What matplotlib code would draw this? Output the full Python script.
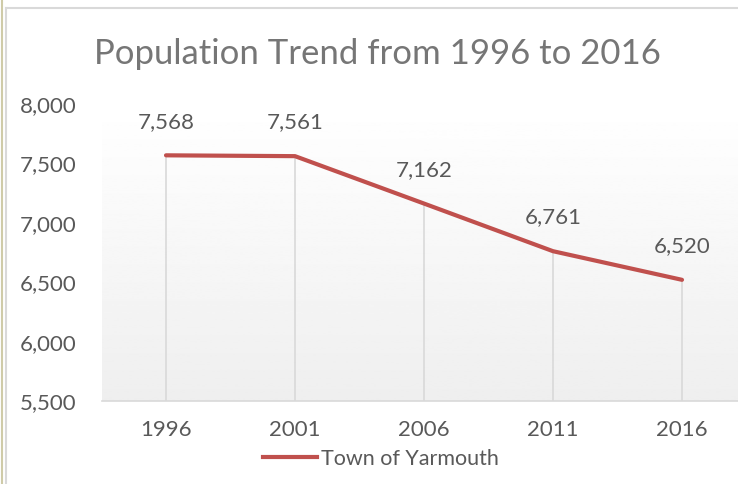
import matplotlib.pyplot as plt
import numpy as np
from matplotlib.lines import Line2D

years = ['1996', '2001', '2006', '2011', '2016']
population = [7568, 7561, 7162, 6761, 6520]
y_ticks = [5500, 6000, 6500, 7000, 7500, 8000]

plt.rcParams['font.family'] = ['Lato', 'DejaVu Sans']

W, H = 738, 484
fig = plt.figure(figsize=(W / 100, H / 100), dpi=100)

# plot area in pixels (right edge runs past the picture, like the cropped screenshot)
left, right, top, bottom = 101.5, 746.5, 104, 401
ax = fig.add_axes([left / W, 1 - bottom / H, (right - left) / W, (bottom - top) / H])

# light vertical gradient, white at top to grey at bottom
grad = np.linspace(1.0, 0.935, 256).reshape(-1, 1)
ax.imshow(grad, cmap='gray', vmin=0, vmax=1, aspect='auto',
          extent=(-0.5, 4.5, 5500, 8000), origin='upper', zorder=0)

x = np.arange(len(years))
ax.vlines(x, 5500, population, color='#d9d9d9', linewidth=1.2, zorder=1)
ax.plot(x, population, color='#c0504d', linewidth=3, solid_capstyle='round', zorder=3,
        label='Town of Yarmouth')

for xi, v in zip(x, population):
    ax.annotate(f'{v:,}', xy=(xi, v), xytext=(0, 17), textcoords='offset points',
                ha='center', va='bottom', fontsize=16, color='#595959')

ax.set_xlim(-0.5, 4.5)
ax.set_ylim(5500, 8000)
ax.set_xticks(x)
ax.set_xticklabels(years)
ax.set_yticks(y_ticks)
ax.set_yticklabels([f'{t:,}' for t in y_ticks])
ax.tick_params(axis='both', length=0, labelsize=16, colors='#595959')
ax.tick_params(axis='x', pad=14)
ax.tick_params(axis='y', pad=18)
for s in ['top', 'right', 'left']:
    ax.spines[s].set_visible(False)
ax.spines['bottom'].set_color('#d9d9d9')
ax.spines['bottom'].set_linewidth(1.2)

fig.text(377 / W, 1 - 54 / H, 'Population Trend from 1996 to 2016',
         ha='center', va='center', fontsize=25, color='#767676')

handle = Line2D([0], [0], color='#c0504d', linewidth=3)
fig.legend([handle], ['Town of Yarmouth'], loc='center', bbox_to_anchor=(381 / W, 1 - 459 / H),
           frameon=False, fontsize=15.5, labelcolor='#595959', handlelength=2.5,
           handletextpad=0.2)

# outer frame lines of the screenshot
fig.add_artist(Line2D([1.5 / W, 1.5 / W], [0, 1], color='#cfcba8', linewidth=1.5))
fig.add_artist(Line2D([5.5 / W, 5.5 / W], [0, 1 - 8 / H], color='#d9d9d9', linewidth=1.5))
fig.add_artist(Line2D([5.5 / W, 1], [1 - 8 / H, 1 - 8 / H], color='#d9d9d9', linewidth=1.5))

fig.savefig('out.png', dpi=100)
